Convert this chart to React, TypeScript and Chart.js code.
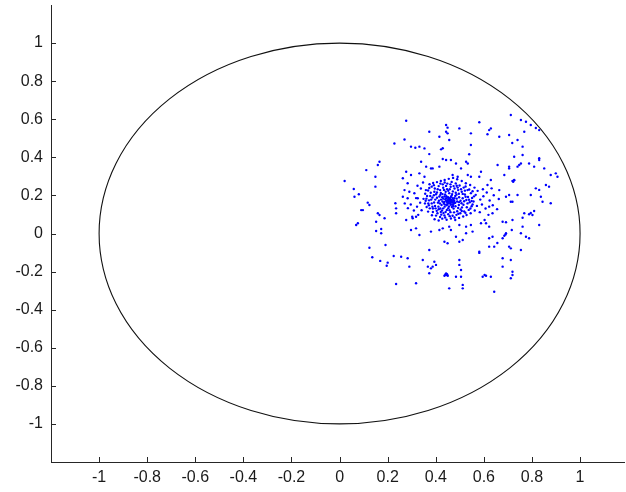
import React, { useEffect, useRef } from "react";
import { Chart, registerables } from "chart.js";

Chart.register(...registerables);

const X_TICKS = [-1, -0.8, -0.6, -0.4, -0.2, 0, 0.2, 0.4, 0.6, 0.8, 1];
const Y_TICKS = [-1, -0.8, -0.6, -0.4, -0.2, 0, 0.2, 0.4, 0.6, 0.8, 1];
const TICK_LABELS = ["-1", "-0.8", "-0.6", "-0.4", "-0.2", "0", "0.2", "0.4", "0.6", "0.8", "1"];
const X_MIN = -1.2;
const X_MAX = 1.186;
const Y_MIN = -1.2;
const Y_MAX = 1.2;
const CIRCLE_CENTER = [0, 0];
const CIRCLE_RADIUS = 1;

const CORE_POINTS: number[][] = [
  [0.456, 0.171], [0.45, 0.175], [0.462, 0.168], [0.447, 0.165], [0.466, 0.178], [0.452, 0.182],
  [0.46, 0.16], [0.443, 0.172], [0.47, 0.17], [0.455, 0.158], [0.458, 0.185], [0.448, 0.155],
  [0.468, 0.162], [0.44, 0.18], [0.474, 0.176], [0.451, 0.19], [0.463, 0.192], [0.436, 0.166],
  [0.476, 0.16], [0.445, 0.148], [0.453, 0.166], [0.459, 0.176], [0.449, 0.17], [0.464, 0.173],
];

const CLUSTER_POINTS: number[][] = [
  [0.392, 0.201], [0.405, 0.215], [0.418, 0.228], [0.431, 0.24], [0.447, 0.233], [0.462, 0.245],
  [0.478, 0.236], [0.493, 0.228], [0.508, 0.219], [0.521, 0.205], [0.534, 0.192], [0.527, 0.176],
  [0.541, 0.164], [0.515, 0.151], [0.529, 0.138], [0.503, 0.126], [0.489, 0.117], [0.474, 0.131],
  [0.461, 0.112], [0.446, 0.124], [0.432, 0.108], [0.419, 0.131], [0.404, 0.119], [0.397, 0.145],
  [0.383, 0.158], [0.409, 0.162], [0.422, 0.178], [0.415, 0.194], [0.428, 0.207], [0.441, 0.219],
  [0.456, 0.212], [0.471, 0.221], [0.486, 0.204], [0.497, 0.19], [0.489, 0.168], [0.503, 0.172],
  [0.496, 0.15], [0.482, 0.143], [0.467, 0.139], [0.452, 0.133], [0.437, 0.141], [0.424, 0.15],
  [0.411, 0.141], [0.398, 0.178], [0.386, 0.189], [0.372, 0.174], [0.379, 0.214], [0.364, 0.197],
  [0.375, 0.132], [0.388, 0.113], [0.401, 0.094], [0.418, 0.087], [0.436, 0.095], [0.452, 0.101],
  [0.47, 0.093], [0.486, 0.098], [0.502, 0.106], [0.518, 0.116], [0.537, 0.124], [0.549, 0.143],
  [0.557, 0.168], [0.551, 0.187], [0.546, 0.212], [0.532, 0.228], [0.516, 0.241], [0.499, 0.252],
  [0.483, 0.263], [0.466, 0.271], [0.448, 0.262], [0.429, 0.258], [0.412, 0.249], [0.396, 0.236],
  [0.383, 0.246], [0.368, 0.226], [0.356, 0.209], [0.349, 0.182], [0.355, 0.158], [0.362, 0.139],
  [0.368, 0.115], [0.384, 0.096], [0.395, 0.075], [0.412, 0.068], [0.427, 0.078], [0.445, 0.072],
  [0.463, 0.079], [0.481, 0.071], [0.497, 0.082], [0.514, 0.089], [0.528, 0.097], [0.545, 0.106],
  [0.562, 0.121], [0.571, 0.145], [0.566, 0.203], [0.574, 0.224], [0.561, 0.241], [0.543, 0.255],
  [0.525, 0.264], [0.508, 0.276], [0.489, 0.285], [0.472, 0.292], [0.454, 0.287], [0.437, 0.281],
  [0.421, 0.276], [0.405, 0.27], [0.389, 0.265], [0.374, 0.259], [0.478, 0.186], [0.436, 0.194],
  [0.472, 0.153], [0.433, 0.16], [0.426, 0.121], [0.512, 0.185], [0.509, 0.137], [0.401, 0.206],
  [0.521, 0.225], [0.443, 0.25],
  [0.585, 0.178], [0.598, 0.196], [0.592, 0.152], [0.607, 0.131], [0.583, 0.112], [0.612, 0.215],
  [0.596, 0.232], [0.624, 0.173], [0.637, 0.148], [0.619, 0.098], [0.603, 0.071], [0.588, 0.054],
  [0.641, 0.201], [0.632, 0.237], [0.655, 0.128], [0.662, 0.181],
  [0.335, 0.162], [0.322, 0.141], [0.309, 0.121], [0.296, 0.152], [0.318, 0.186], [0.341, 0.122],
  [0.327, 0.098], [0.284, 0.133], [0.271, 0.158], [0.302, 0.088], [0.338, 0.236], [0.324, 0.251],
  [0.347, 0.268],
];

const CLUSTER_FILL_POINTS: number[][] = [
  [0.405, 0.188], [0.413, 0.172], [0.427, 0.191], [0.419, 0.203], [0.434, 0.229], [0.452, 0.224],
  [0.468, 0.207], [0.483, 0.214], [0.491, 0.241], [0.474, 0.249], [0.458, 0.233], [0.439, 0.205],
  [0.428, 0.168], [0.417, 0.158], [0.393, 0.163], [0.381, 0.178], [0.369, 0.158], [0.388, 0.131],
  [0.407, 0.106], [0.423, 0.099], [0.441, 0.113], [0.457, 0.122], [0.476, 0.111], [0.493, 0.134],
  [0.507, 0.159], [0.518, 0.169], [0.532, 0.158], [0.538, 0.177], [0.524, 0.193], [0.512, 0.208],
  [0.496, 0.209], [0.481, 0.197], [0.487, 0.183], [0.481, 0.161], [0.472, 0.145], [0.463, 0.151],
  [0.437, 0.153], [0.431, 0.183], [0.421, 0.213], [0.408, 0.232], [0.394, 0.219], [0.377, 0.197],
  [0.361, 0.183], [0.359, 0.228], [0.373, 0.239], [0.392, 0.254], [0.419, 0.262], [0.437, 0.268],
  [0.461, 0.258], [0.487, 0.251], [0.505, 0.233], [0.524, 0.247], [0.539, 0.231], [0.553, 0.222],
  [0.559, 0.195], [0.549, 0.171], [0.553, 0.152], [0.544, 0.131], [0.523, 0.109], [0.508, 0.118],
  [0.494, 0.104], [0.478, 0.084], [0.458, 0.091], [0.439, 0.084], [0.421, 0.113], [0.412, 0.127],
  [0.399, 0.132], [0.386, 0.141], [0.371, 0.148], [0.358, 0.172], [0.444, 0.196], [0.466, 0.199],
  [0.477, 0.171], [0.431, 0.132], [0.497, 0.165], [0.455, 0.142], [0.443, 0.186], [0.471, 0.186],
];

const UPPER_POINTS: number[][] = [
  [0.277, 0.592], [0.443, 0.57], [0.449, 0.556], [0.443, 0.534], [0.449, 0.526], [0.581, 0.584],
  [0.498, 0.552], [0.546, 0.526], [0.622, 0.543], [0.629, 0.552], [0.615, 0.521], [0.373, 0.534],
  [0.415, 0.508], [0.456, 0.491], [0.27, 0.494], [0.228, 0.473], [0.297, 0.456], [0.315, 0.45],
  [0.332, 0.456], [0.353, 0.447], [0.422, 0.442], [0.429, 0.448], [0.546, 0.465], [0.373, 0.417],
  [0.539, 0.416], [0.657, 0.36], [0.429, 0.391], [0.443, 0.386], [0.463, 0.386], [0.484, 0.368],
  [0.526, 0.377], [0.533, 0.368], [0.339, 0.377], [0.36, 0.351], [0.38, 0.342], [0.387, 0.342],
  [0.415, 0.351], [0.505, 0.342], [0.277, 0.324], [0.297, 0.307], [0.332, 0.316], [0.353, 0.298],
  [0.47, 0.307], [0.491, 0.298], [0.533, 0.307], [0.546, 0.298], [0.588, 0.324], [0.581, 0.298],
  [0.629, 0.281], [0.615, 0.255], [0.263, 0.29], [0.283, 0.264], [0.27, 0.228], [0.29, 0.219],
  [0.263, 0.193], [0.283, 0.185], [0.311, 0.211], [0.325, 0.185],
];

const RIGHT_POINTS: number[][] = [
  [0.712, 0.622], [0.754, 0.596], [0.775, 0.587], [0.795, 0.57], [0.816, 0.554], [0.83, 0.543],
  [0.768, 0.534], [0.705, 0.517], [0.664, 0.508], [0.74, 0.491], [0.718, 0.475], [0.761, 0.456],
  [0.726, 0.403], [0.761, 0.412], [0.83, 0.395], [0.754, 0.368], [0.74, 0.351], [0.809, 0.351],
  [0.851, 0.342], [0.705, 0.342], [0.685, 0.307], [0.878, 0.307], [0.899, 0.316], [0.906, 0.298],
  [0.719, 0.276], [0.726, 0.28], [0.722, 0.272], [0.858, 0.255], [0.871, 0.246], [0.816, 0.237],
  [0.83, 0.229], [0.705, 0.202], [0.74, 0.202], [0.795, 0.202], [0.837, 0.193], [0.844, 0.167],
  [0.878, 0.159], [0.712, 0.167], [0.768, 0.106], [0.788, 0.101], [0.802, 0.097], [0.809, 0.118],
  [0.795, 0.108], [0.761, 0.083], [0.83, 0.045], [0.761, 0.036], [0.678, 0.062], [0.692, 0.059],
  [0.716, 0.018], [0.692, 0.001], [0.678, -0.025], [0.685, -0.012], [0.69, -0.005], [0.775, -0.017],
  [0.788, -0.025], [0.705, -0.069], [0.712, -0.078], [0.754, -0.087], [0.678, -0.13], [0.712, -0.139],
  [0.678, -0.174], [0.719, -0.201], [0.719, -0.218], [0.712, -0.235],
  [0.664, 0.228], [0.692, 0.193], [0.719, 0.167], [0.622, 0.141], [0.636, 0.106], [0.609, 0.054],
  [0.622, 0.036], [0.719, 0.071], [0.754, 0.001], [0.705, 0.351], [0.747, 0.36], [0.788, 0.368],
  [0.83, 0.386], [0.726, 0.281],
];

const LEFT_POINTS: number[][] = [
  [0.166, 0.377], [0.159, 0.36], [0.111, 0.333], [0.149, 0.298], [0.149, 0.246], [0.021, 0.276],
  [0.059, 0.234], [0.08, 0.206], [0.062, 0.193], [0.117, 0.162], [0.232, 0.159], [0.09, 0.123],
  [0.069, 0.045], [0.124, 0.15], [0.097, 0.123], [0.159, 0.106], [0.166, 0.097], [0.187, 0.08],
  [0.076, 0.054], [0.152, 0.062], [0.173, 0.024], [0.152, 0.013], [0.173, 0.001], [0.235, 0.132],
  [0.235, 0.106],
];

const LOWER_POINTS: number[][] = [
  [0.124, -0.075], [0.191, -0.06], [0.136, -0.125], [0.225, -0.118], [0.169, -0.144], [0.2, -0.153],
  [0.196, -0.169], [0.235, -0.265], [0.277, 0.071], [0.304, 0.08], [0.318, 0.088], [0.297, 0.018],
  [0.318, 0.027], [0.332, -0.008], [0.38, 0.01], [0.415, 0.018], [0.429, 0.027], [0.456, 0.036],
  [0.463, 0.018], [0.498, 0.045], [0.526, 0.036], [0.546, 0.045], [0.484, -0.017], [0.498, -0.043],
  [0.512, -0.034], [0.526, 0.001], [0.553, 0.01], [0.436, -0.043], [0.449, -0.051], [0.581, -0.096],
  [0.622, -0.069], [0.643, -0.069], [0.373, -0.087], [0.256, -0.122], [0.283, -0.13], [0.29, -0.174],
  [0.346, -0.139], [0.394, -0.148], [0.401, -0.165], [0.367, -0.174], [0.38, -0.183], [0.387, -0.174],
  [0.373, -0.209], [0.443, -0.218], [0.436, -0.222], [0.45, -0.222], [0.443, -0.21], [0.44, -0.215],
  [0.447, -0.214], [0.498, -0.165], [0.498, -0.139], [0.505, -0.192], [0.484, -0.227], [0.505, -0.227],
  [0.512, -0.27], [0.595, -0.227], [0.609, -0.222], [0.456, -0.288], [0.512, -0.288], [0.318, -0.261],
  [0.643, -0.306], [0.622, -0.025], [0.636, -0.017], [0.656, -0.05], [0.581, -0.102], [0.603, -0.218],
  [0.629, -0.227],
];

const AXIS_COLOR = "#262626";
const POINT_COLOR = "#0000ff";
const FONT = { family: "'Liberation Sans', Arial, sans-serif", size: 16 };

const decorPlugin = {
  id: "decor",
  beforeDatasetsDraw(chart: any) {
    const { ctx, scales } = chart;
    const x = scales.x;
    const y = scales.y;
    const cx = x.getPixelForValue(CIRCLE_CENTER[0]);
    const cy = y.getPixelForValue(CIRCLE_CENTER[1]);
    const rx = Math.abs(x.getPixelForValue(CIRCLE_CENTER[0] + CIRCLE_RADIUS) - cx);
    const ry = Math.abs(y.getPixelForValue(CIRCLE_CENTER[1] + CIRCLE_RADIUS) - cy);
    ctx.save();
    ctx.strokeStyle = "#111";
    ctx.lineWidth = 1.1;
    ctx.beginPath();
    ctx.ellipse(cx, cy, rx, ry, 0, 0, Math.PI * 2);
    ctx.stroke();
    ctx.restore();
  },
  afterDraw(chart: any) {
    const { ctx, chartArea, scales } = chart;
    const x = scales.x;
    const y = scales.y;
    ctx.save();
    ctx.strokeStyle = AXIS_COLOR;
    ctx.lineWidth = 1;
    ctx.beginPath();
    X_TICKS.forEach((v) => {
      const px = Math.round(x.getPixelForValue(v)) + 0.5;
      ctx.moveTo(px, chartArea.bottom);
      ctx.lineTo(px, chartArea.bottom - 5);
    });
    Y_TICKS.forEach((v) => {
      const py = Math.round(y.getPixelForValue(v)) + 0.5;
      ctx.moveTo(chartArea.left, py);
      ctx.lineTo(chartArea.left + 5, py);
    });
    ctx.stroke();
    ctx.restore();
  },
};

export default function App() {
  const canvasRef = useRef<HTMLCanvasElement | null>(null);

  useEffect(() => {
    if (!canvasRef.current) return;
    const all = [
      ...CORE_POINTS,
      ...CLUSTER_POINTS,
      ...CLUSTER_FILL_POINTS,
      ...UPPER_POINTS,
      ...RIGHT_POINTS,
      ...LEFT_POINTS,
      ...LOWER_POINTS,
    ];
    const chart = new Chart(canvasRef.current, {
      type: "scatter",
      data: {
        datasets: [
          {
            data: all.map((p) => ({ x: p[0], y: p[1] })),
            backgroundColor: POINT_COLOR,
            borderWidth: 0,
            pointRadius: 1.2,
            pointHoverRadius: 1.2,
          },
        ],
      },
      options: {
        responsive: false,
        animation: false,
        devicePixelRatio: 1,
        layout: { padding: { top: 5, right: 0, left: 0, bottom: 0 } },
        plugins: { legend: { display: false }, tooltip: { enabled: false } },
        scales: {
          x: {
            type: "linear",
            min: X_MIN,
            max: X_MAX,
            grid: { display: false, drawTicks: false },
            border: { display: true, color: AXIS_COLOR, width: 1 },
            afterBuildTicks: (s: any) => {
              s.ticks = X_TICKS.map((v) => ({ value: v }));
            },
            afterFit: (s: any) => {
              s.height = 30;
              s.paddingLeft = 0;
              s.paddingRight = 0;
            },
            ticks: {
              padding: 6,
              color: "#1a1a1a",
              font: FONT,
              maxRotation: 0,
              autoSkip: false,
              callback: (_v: any, i: number) => TICK_LABELS[i],
            },
          },
          y: {
            type: "linear",
            min: Y_MIN,
            max: Y_MAX,
            grid: { display: false, drawTicks: false },
            border: { display: true, color: AXIS_COLOR, width: 1 },
            afterBuildTicks: (s: any) => {
              s.ticks = Y_TICKS.map((v) => ({ value: v }));
            },
            afterFit: (s: any) => {
              s.width = 51;
              s.paddingTop = 0;
              s.paddingBottom = 0;
            },
            ticks: {
              padding: 8,
              color: "#1a1a1a",
              font: FONT,
              autoSkip: false,
              callback: (_v: any, i: number) => TICK_LABELS[i],
            },
          },
        },
      },
      plugins: [decorPlugin],
    });
    return () => chart.destroy();
  }, []);

  return (
    <div style={{ position: "absolute", left: 0, top: 0, width: 626, height: 492, background: "#fff" }}>
      <canvas ref={canvasRef} width={626} height={492} style={{ display: "block" }} />
    </div>
  );
}
